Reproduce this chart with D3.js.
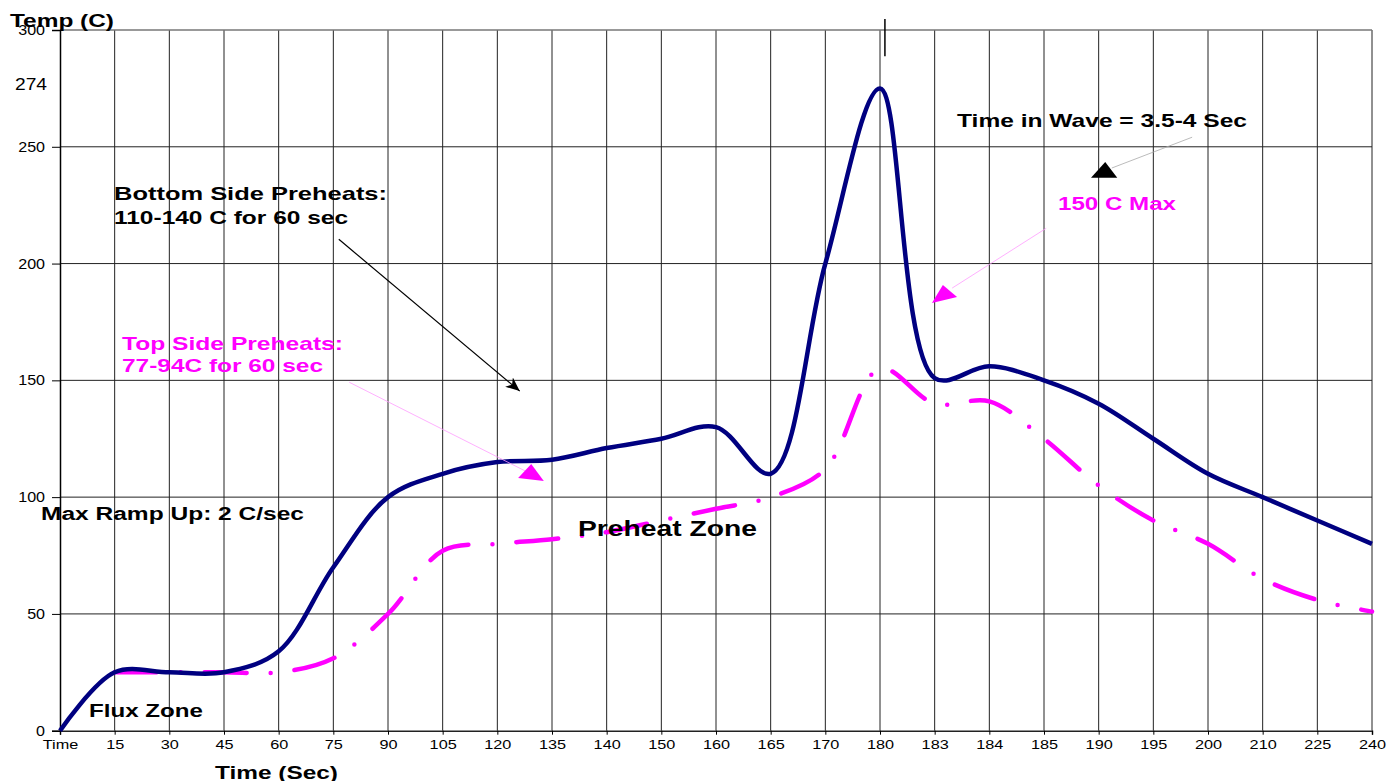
<!DOCTYPE html>
<html>
<head>
<meta charset="utf-8">
<script src="https://cdn.jsdelivr.net/npm/d3@7/dist/d3.min.js"></script>
<style>
  body { margin: 0; background: #fff; }
  svg { display: block; font-family: "Liberation Sans", Arial, sans-serif; }
</style>
</head>
<body>
<svg id="chart" width="1398" height="781"></svg>
<script>
// time axis is categorical - the labels are not evenly spaced in seconds
var categories = ["Time", "15", "30", "45", "60", "75", "90", "105", "120", "135", "140", "150",
                  "160", "165", "170", "180", "183", "184", "185", "190", "195", "200", "210", "225", "240"];
var bottomSide = [0, 25, 25, 25, 34, 70, 100, 110, 115, 116, 121, 125,
                  130, 110, 200, 275, 151, 156, 150, 140, 125, 110, 100, 90, 80];
var topSide = [null, 25, 25, 25, 25, 31, 50, 77, 80, 82, 85, 90,
               95, 100, 112, 155, 140, 141, 125, 105, 90, 80, 65, 56, 51];
var yTicks = [0, 50, 100, 150, 200, 250, 300];
var peakLabel = 274;

var svg = d3.select("#chart");

var x = d3.scalePoint().domain(categories).range([60, 1372]);
var y = d3.scaleLinear().domain([0, 300]).range([730.7, 30]);

// position by fractional category index, used for the callouts
function xi(i) { return x(categories[0]) + i * x.step(); }

// grid
svg.append("g").selectAll("line.v")
    .data(categories.slice(1))
    .enter().append("line")
    .attr("x1", function (d) { return x(d); })
    .attr("x2", function (d) { return x(d); })
    .attr("y1", y(300)).attr("y2", y(0))
    .attr("stroke", "#222").attr("stroke-width", 1);

svg.append("g").selectAll("line.h")
    .data(yTicks.slice(1))
    .enter().append("line")
    .attr("x1", x(categories[0])).attr("x2", x(categories[categories.length - 1]))
    .attr("y1", function (d) { return y(d); })
    .attr("y2", function (d) { return y(d); })
    .attr("stroke", function (d) { return d === 300 ? "#777" : "#222"; })
    .attr("stroke-width", function (d) { return d === 300 ? 1.5 : 1; });

// axes
var xAxis = svg.append("g")
    .attr("transform", "translate(0," + y(0) + ")")
    .call(d3.axisBottom(x).tickSize(4).tickPadding(5));
xAxis.select(".domain").attr("stroke", "#222").attr("stroke-width", 1.5);
xAxis.selectAll("text").attr("font-size", 13).attr("fill", "#000")
    .attr("font-family", "Liberation Sans, Arial, sans-serif")
    .attr("transform", "scale(1.25,1)");

var yAxis = svg.append("g")
    .attr("transform", "translate(" + x(categories[0]) + ",0)")
    .call(d3.axisLeft(y).tickValues(yTicks).tickFormat(d3.format("d")).tickSize(8).tickPadding(5));
yAxis.select(".domain").attr("stroke", "#000").attr("stroke-width", 1.5);
yAxis.selectAll("text").attr("font-size", 14).attr("fill", "#000")
    .attr("font-family", "Liberation Sans, Arial, sans-serif")
    .attr("transform", "scale(1.15,1)");

svg.append("text")
    .attr("x", 47).attr("y", y(peakLabel) - 1)
    .attr("text-anchor", "end")
    .attr("font-size", 16.5)
    .attr("textLength", 32).attr("lengthAdjust", "spacingAndGlyphs")
    .text(peakLabel);

// lines
var lineGen = d3.line()
    .defined(function (d) { return d.v !== null; })
    .x(function (d) { return x(d.c); })
    .y(function (d) { return y(d.v); })
    .curve(d3.curveCatmullRom.alpha(0.5));

function pairs(vals) {
    return categories.map(function (c, i) { return { c: c, v: vals[i] }; });
}

svg.append("path")
    .datum(pairs(topSide))
    .attr("d", lineGen)
    .attr("fill", "none")
    .attr("stroke", "#ff00ff")
    .attr("stroke-width", 4.5)
    .attr("stroke-linecap", "round")
    .attr("stroke-dasharray", "42 24 0 24");

svg.append("path")
    .datum(pairs(bottomSide))
    .attr("d", lineGen)
    .attr("fill", "none")
    .attr("stroke", "#000080")
    .attr("stroke-width", 4.5)
    .attr("stroke-linejoin", "round");

// callouts
var defs = svg.append("defs");
defs.append("marker")
    .attr("id", "arrowBlack")
    .attr("markerUnits", "userSpaceOnUse")
    .attr("markerWidth", 16).attr("markerHeight", 12)
    .attr("refX", 14).attr("refY", 6)
    .attr("orient", "auto")
    .append("path")
    .attr("d", "M0,0 L14,6 L0,12 L4,6 Z")
    .attr("fill", "#000");

function seg(a, b, color, width, marker) {
    var l = svg.append("line")
        .attr("x1", xi(a[0])).attr("y1", y(a[1]))
        .attr("x2", xi(b[0])).attr("y2", y(b[1]))
        .attr("stroke", color).attr("stroke-width", width);
    if (marker) l.attr("marker-end", "url(#" + marker + ")");
}

function tri(pts, color) {
    svg.append("polygon")
        .attr("points", pts.map(function (p) { return xi(p[0]) + "," + y(p[1]); }).join(" "))
        .attr("fill", color);
}

seg([5.10, 210.4], [8.41, 145.4], "#000", 1.2, "arrowBlack");

seg([5.29, 149.2], [8.51, 111.2], "#ff9cff", 0.8);
tri([[8.62, 114.2], [8.38, 108.2], [8.85, 106.9]], "#ff00ff");

seg([18.04, 215.1], [16.32, 189.5], "#ff9cff", 0.8);
tri([[16.15, 190.8], [15.95, 183.1], [16.41, 185.7]], "#ff00ff");

seg([20.71, 254.1], [19.24, 240.9], "#aaa", 0.8);
tri([[19.12, 243.5], [18.86, 236.7], [19.34, 236.7]], "#000");

// marker stub above the peak
seg([15.09, 304.7], [15.09, 288.8], "#000", 1.5);

// text labels
function label(txt, x0, x1, base, size, color) {
    svg.append("text")
        .attr("x", x0).attr("y", base)
        .attr("font-size", size)
        .attr("font-weight", "bold")
        .attr("fill", color || "#000")
        .attr("textLength", x1 - x0)
        .attr("lengthAdjust", "spacingAndGlyphs")
        .text(txt);
}

label("Temp (C)", 10, 114, 27, 19);
label("Time (Sec)", 215, 338, 779, 19);
label("Bottom Side Preheats:", 114, 387, 200, 19);
label("110-140 C for 60 sec", 114, 348, 224, 19);
label("Top Side Preheats:", 122, 343, 350, 19, "#ff00ff");
label("77-94C for 60 sec", 122, 323, 372, 19, "#ff00ff");
label("Time in Wave = 3.5-4 Sec", 957, 1247, 127, 19);
label("150 C Max", 1058, 1176, 210, 18, "#ff00ff");
label("Max Ramp Up: 2 C/sec", 41, 304, 520, 18);
label("Preheat Zone", 578, 757, 536, 22);
label("Flux Zone", 89, 203, 717, 18);
</script>
</body>
</html>
